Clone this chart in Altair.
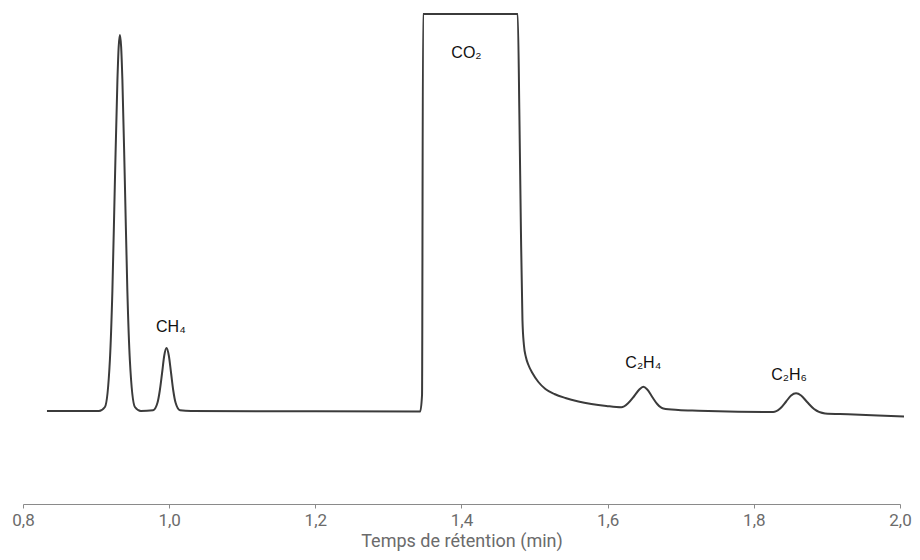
import altair as alt
import pandas as pd

# Chromatogram trace: retention time (min) and detector signal (arb. units)
time_min = [
    0.8328, 0.9039, 0.9121, 0.9189, 0.9223, 0.9257, 0.9292, 0.9309, 0.9326, 0.9343, 0.9360,
    0.9394, 0.9428, 0.9462, 0.9531, 0.9613,
    0.9780, 0.9841, 0.9872, 0.9903, 0.9933, 0.9964, 0.9995, 1.0026, 1.0056, 1.0087, 1.0149,
    1.0300, 1.2000, 1.3435, 1.3460, 1.3474, 1.4769,
    1.4793, 1.4813, 1.4834, 1.4854, 1.4881, 1.4916, 1.4970, 1.5052, 1.5148, 1.5271, 1.5421,
    1.5599, 1.5777, 1.5982, 1.6187,
    1.6282, 1.6364, 1.6433, 1.6487, 1.6542, 1.6610, 1.6678, 1.6761, 1.6966, 1.7239, 1.7786,
    1.8264, 1.8360, 1.8442, 1.8510, 1.8578, 1.8647, 1.8729, 1.8824, 1.8975, 1.9289, 1.9699, 2.0055,
]
signal = [
    0.0, 0.0, 0.8, 10.2, 24.0, 45.6, 66.2, 72.8, 75.2, 72.8, 66.2,
    45.6, 24.0, 10.2, 0.8, 0.0,
    0.14, 1.7, 4.1, 7.6, 11.1, 12.6, 11.1, 7.6, 4.1, 1.7, 0.14,
    0.0, -0.05, -0.1, 3.2, 79.4, 79.4,
    58.2, 36.2, 18.2, 13.2, 10.8, 9.2, 7.6, 5.8, 4.4, 3.4, 2.6,
    1.9, 1.4, 1.0, 0.74,
    1.6, 3.0, 4.3, 4.86, 4.3, 2.8, 1.4, 0.5, 0.2, 0.06, -0.14,
    -0.2, 0.5, 1.9, 3.1, 3.54, 3.1, 1.8, 0.4, -0.5, -0.66, -0.9, -1.1,
]

# Peak labels
label_text = ["CH₄", "CO₂", "C₂H₄", "C₂H₆"]
label_time = [1.0023, 1.4068, 1.6487, 1.8483]
label_signal = [16.8, 71.7, 9.6, 7.26]

x_ticks = [0.8, 1.0, 1.2, 1.4, 1.6, 1.8, 2.0]

trace = pd.DataFrame({"t": time_min, "s": signal})
labels = pd.DataFrame({"t": label_time, "s": label_signal, "label": label_text})

x_scale = alt.Scale(domain=[0.8, 2.0], nice=False, zero=False)
y_scale = alt.Scale(domain=[-18.6, 80.6], nice=False, zero=False)

line = alt.Chart(trace).mark_line(
    color="#3b3b3b", strokeWidth=2, interpolate="monotone"
).encode(
    x=alt.X("t:Q", scale=x_scale,
            axis=alt.Axis(
                values=x_ticks,
                title="Temps de rétention (min)",
                labelExpr="replace(format(datum.value, '.1f'), '.', ',')",
                grid=False,
                labelFlush=False,
                domainColor="#8a8a8a", tickColor="#8a8a8a",
                tickSize=4, labelPadding=4,
                labelColor="#6b6b6b", titleColor="#6b6b6b",
                labelFont="Roboto", titleFont="Roboto",
                labelFontSize=17, titleFontSize=18, titleFontWeight="normal",
                titlePadding=4,
            )),
    y=alt.Y("s:Q", scale=y_scale, axis=None),
)

text = alt.Chart(labels).mark_text(
    font="Liberation Sans", fontSize=16, color="#111111", baseline="middle", align="center"
).encode(
    x=alt.X("t:Q", scale=x_scale),
    y=alt.Y("s:Q", scale=y_scale),
    text="label:N",
)

chart = (line + text).properties(
    width=877, height=496,
    autosize=alt.AutoSizeParams(type="none"),
    padding={"left": 15, "top": 0, "right": 12, "bottom": 48},
).configure_view(stroke=None)

chart.save("out.html", embed_options={"renderer": "svg", "actions": False})
